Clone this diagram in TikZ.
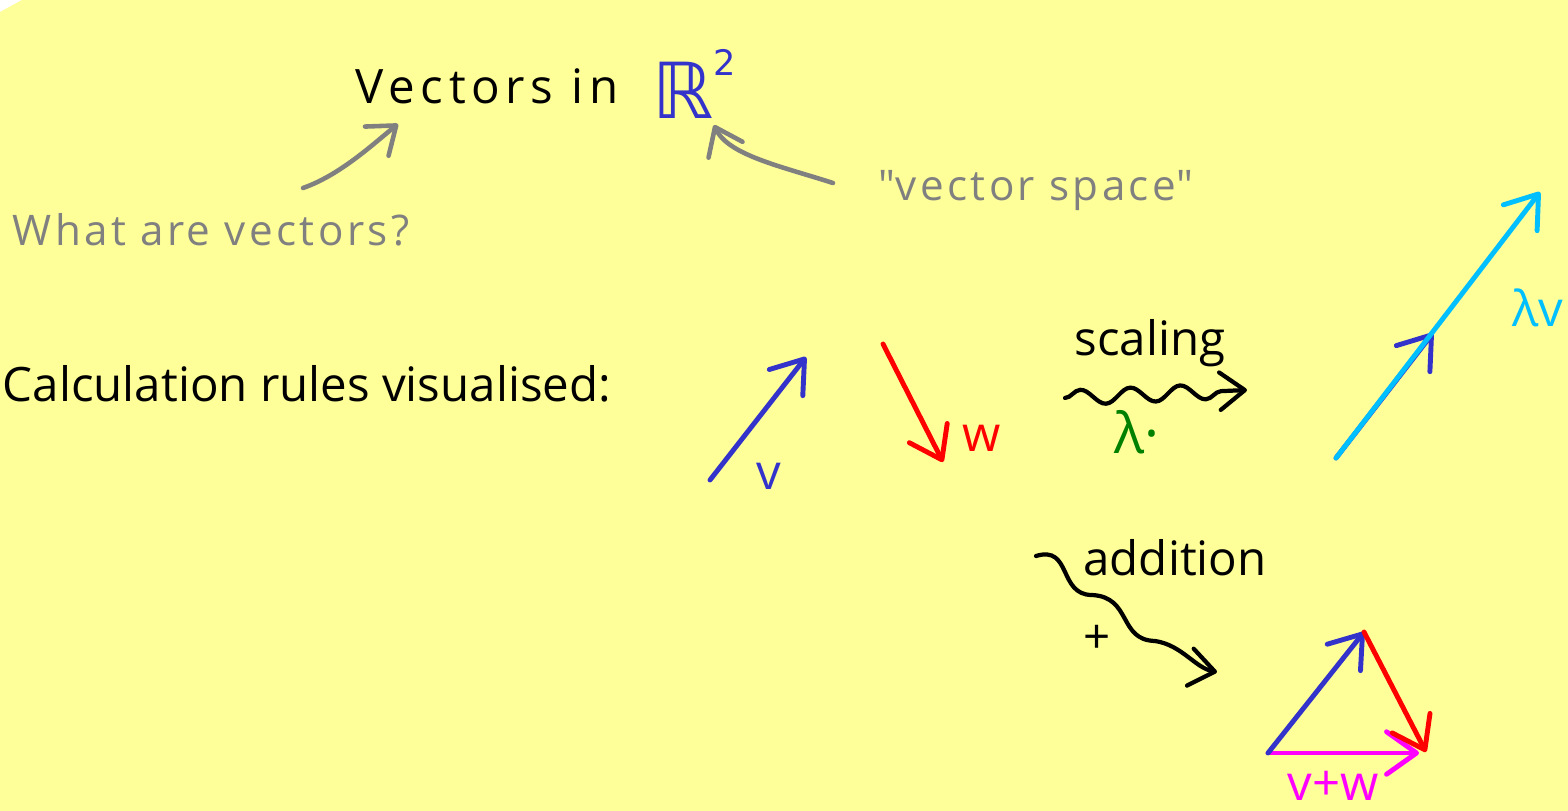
\documentclass[tikz,border=0pt]{standalone}
\usepackage{fontspec}
\setmainfont{Open Sans}
\newfontfamily\symfont{DejaVu Sans}
\usetikzlibrary{positioning,arrows.meta,decorations.pathmorphing}

\definecolor{paper}{HTML}{FFFF99}
\definecolor{pen}{HTML}{3333CC}
\definecolor{sky}{HTML}{00BFFF}
\definecolor{leaf}{HTML}{008000}
\definecolor{hint}{HTML}{808080}
\definecolor{sumcol}{HTML}{FF00FF}
\definecolor{ink}{HTML}{FF0000}

\begin{document}
\begin{tikzpicture}[x=0.02cm, y=-0.02cm,
    hand/.style={inner sep=0pt, font=\fontsize{27}{32}\selectfont},
    wide/.style={inner sep=0pt, font=\fontsize{27}{32}\selectfont\addfontfeature{LetterSpace=12}},
    aside/.style={inner sep=0pt, font=\fontsize{24}{28}\selectfont\addfontfeature{LetterSpace=8}, text=hint},
    label/.style={inner sep=0pt, font=\fontsize{28}{32}\selectfont},
    penarrow/.style={-{Straight Barb[length=6mm,width=8.5mm,round]}, line width=2.8pt, line cap=round},
    pointer/.style={-{Straight Barb[length=5mm,width=7.5mm,round]}, line width=2.6pt, line cap=round, hint},
    squiggle/.style={-{Straight Barb[length=5mm,width=7.5mm,round]}, line width=2.4pt, line cap=round}
  ]
  \useasboundingbox (0,0) rectangle (1568,811);
  % sticky note
  \fill[white] (0,0) rectangle (1568,811);
  \fill[paper] (0,12) -- (22,0) -- (1568,0) -- (1568,811) -- (0,811) -- cycle;

  % heading
  \node[wide] (title) at (487,86) {Vectors in};
  \node[inner sep=0pt, anchor=west, text=pen, font=\symfont\fontsize{44}{50}\selectfont] (reals) at (652,84)
    {ℝ\raisebox{0.55em}{\fontsize{20}{20}\selectfont 2}};
  \node[aside] (what) at (211,230) {What are vectors?};
  \node[aside] (space) at (1036,191) {\textquotedbl vector space\textquotedbl};

  \coordinate (whatS) at (303,188);
  \coordinate (whatE) at (398,124);
  \coordinate (spaceS) at (833,183);
  \coordinate (spaceE) at (714,125);
  \draw[pointer] (whatS) .. controls (340,175) and (372,145) .. (whatE);
  \draw[pointer] (spaceS) .. controls (780,166) and (728,155) .. (spaceE);

  \node[hand] (rules) at (307,384) {Calculation rules visualised:};

  % v and w
  \coordinate (v0) at (710,480);
  \coordinate (v1) at (806,357);
  \coordinate (w0) at (883,344);
  \coordinate (w1) at (943,462);
  \draw[penarrow, pen] (v0) -- (v1);
  \draw[penarrow, ink] (w0) -- (w1);
  \node[label, text=pen] (vlab) at (769,476) {v};
  \node[label, text=ink] (wlab) at (982,438) {w};

  % scaling
  \coordinate (scS) at (1065,398);
  \coordinate (scE) at (1247,390);
  \draw[squiggle, decorate, decoration={snake, amplitude=1.5mm, segment length=1cm, post length=5mm}] (scS) -- (scE);
  \node[hand] (scaling) at (1150,343) {scaling};
  \node[label, text=leaf, font=\fontsize{32}{36}\selectfont] (lam) at (1137,432) {λ·};

  \coordinate (s0) at (1336,458);
  \coordinate (s1) at (1433,333);
  \coordinate (s2) at (1540,192);
  \draw[penarrow, pen] (s0) -- (s1);
  \draw[penarrow, sky] (s0) -- (s2);
  \node[label, text=sky] (lamv) at (1538,308) {λv};

  % addition
  \coordinate (adS) at (1036,556);
  \coordinate (adE) at (1217,672);
  \draw[squiggle] (adS) .. controls (1072,545) and (1058,595) .. (1092,595)
    .. controls (1132,597) and (1118,640) .. (1155,641)
    .. controls (1182,645) and (1195,668) .. (adE);
  \node[hand] (addition) at (1175,558) {addition};
  \node[hand] (plus) at (1097,639) {+};

  \coordinate (t0) at (1268,753);
  \coordinate (t1) at (1364,632);
  \coordinate (t2) at (1426,752);
  \coordinate (t3) at (1419,753);
  \draw[penarrow, sumcol] (t0) -- (t3);
  \draw[penarrow, pen] (t0) -- (t1);
  \draw[penarrow, ink] (t1) -- (t2);
  \node[label, text=sumcol] (sum) at (1333,786) {v+w};
\end{tikzpicture}
\end{document}
